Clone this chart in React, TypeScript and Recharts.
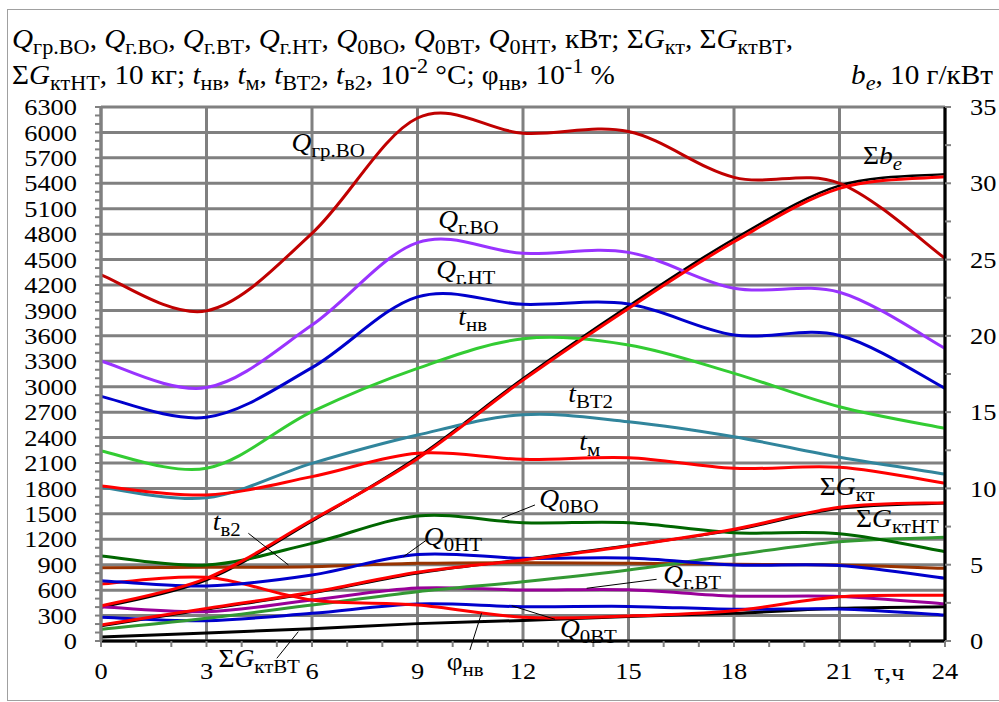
import React from 'react';
import { LineChart, Line, XAxis, YAxis, CartesianGrid, ReferenceLine, ReferenceDot } from 'recharts';

// ---------- data ----------
const hours = [0, 3, 6, 9, 12, 15, 18, 21, 24];

const qGrVO = [4320, 3895, 4810, 6170, 5990, 6010, 5470, 5400, 4515];
const qGVO = [3303, 2990, 3728, 4700, 4574, 4585, 4161, 4115, 3453];
const qGNT = [2886, 2640, 3225, 4060, 3972, 3975, 3610, 3605, 2981];
const tNV = [2242, 2037, 2706, 3217, 3565, 3492, 3158, 2764, 2509];
const tVT2 = [1813, 1690, 2096, 2430, 2670, 2587, 2410, 2167, 1970];
const tM = [1829, 1723, 1939, 2214, 2143, 2163, 2037, 2049, 1861];
const q0VO = [1003, 897, 1152, 1475, 1396, 1395, 1278, 1265, 1054];
const tV2 = [865, 870, 877, 916, 924, 916, 905, 897, 857];
const q0NT = [712, 649, 779, 1020, 975, 978, 897, 890, 740];
const sumGkt = [189, 385, 575, 810, 956, 1121, 1318, 1577, 1632];
const sumGktApprox = [176, 372, 566, 800, 962, 1128, 1308, 1562, 1624];
const sumGktNT = [138, 268, 425, 582, 700, 838, 1015, 1172, 1223];
const qGVT = [405, 346, 484, 625, 602, 605, 531, 525, 437];
const q0VT = [280, 240, 327, 436, 405, 408, 374, 378, 307];
const phiNV = [672, 751, 484, 425, 280, 295, 358, 523, 539];
const sumGktVT = [48, 95, 145, 205, 242, 290, 327, 386, 405];
const sumBe = [2.29, 4.11, 7.93, 11.95, 17.1, 21.8, 26.17, 29.67, 30.43];
const sumBeApprox = [2.2, 4.0, 7.85, 12.05, 17.2, 21.95, 26.35, 29.85, 30.6];

// ---------- axes ----------
const leftMajorTicks = [0, 300, 600, 900, 1200, 1500, 1800, 2100, 2400, 2700, 3000, 3300, 3600, 3900, 4200, 4500, 4800, 5100, 5400, 5700, 6000, 6300];
const leftAllTicks = Array.from({ length: 64 }, (_, i) => i * 100);
const rightTicks = [0, 2.5, 5, 7.5, 10, 12.5, 15, 17.5, 20, 22.5, 25, 27.5, 30, 32.5, 35];
const xMajorTicks = [0, 3, 6, 9, 12, 15, 18, 21, 24];
const xAllTicks = Array.from({ length: 25 }, (_, i) => i);

const data = hours.map((h, i) => ({
  h,
  qGrVO: qGrVO[i], qGVO: qGVO[i], qGNT: qGNT[i], tNV: tNV[i], tVT2: tVT2[i], tM: tM[i],
  q0VO: q0VO[i], tV2: tV2[i], q0NT: q0NT[i], sumGkt: sumGkt[i], sumGktApprox: sumGktApprox[i],
  sumGktNT: sumGktNT[i], qGVT: qGVT[i], q0VT: q0VT[i], phiNV: phiNV[i], sumGktVT: sumGktVT[i],
  sumBe: sumBe[i], sumBeApprox: sumBeApprox[i],
}));

type Seg = [string, string];

const seriesLeft: { key: string; color: string; width: number }[] = [
  { key: 'sumGktApprox', color: '#000000', width: 2.5 },
  { key: 'sumGktVT', color: '#000000', width: 3 },
  { key: 'tV2', color: '#993300', width: 3 },
  { key: 'q0VT', color: '#0000CC', width: 3 },
  { key: 'qGVT', color: '#990099', width: 3 },
  { key: 'sumGktNT', color: '#339933', width: 3 },
  { key: 'phiNV', color: '#FF0000', width: 3 },
  { key: 'q0NT', color: '#0000CC', width: 3 },
  { key: 'q0VO', color: '#006600', width: 3 },
  { key: 'sumGkt', color: '#FF0000', width: 3 },
  { key: 'tVT2', color: '#31859C', width: 3 },
  { key: 'tM', color: '#FF0000', width: 3 },
  { key: 'tNV', color: '#33CC33', width: 3 },
  { key: 'qGNT', color: '#0000CC', width: 3 },
  { key: 'qGVO', color: '#9933FF', width: 3 },
  { key: 'qGrVO', color: '#C00000', width: 3 },
];

// annotation anchors (data coordinates: hour, left-axis value)
const curveLabels: { h: number; v: number; segs: Seg[] }[] = [
  { h: 5.42, v: 5780, segs: [['Q', 'i'], ['гр.ВО', 's']] },
  { h: 9.59, v: 4872, segs: [['Q', 'i'], ['г.ВО', 's']] },
  { h: 9.53, v: 4279, segs: [['Q', 'i'], ['г.НТ', 's']] },
  { h: 10.16, v: 3728, segs: [['t', 'i'], ['нв', 's']] },
  { h: 13.29, v: 2823, segs: [['t', 'i'], ['ВТ2', 's']] },
  { h: 13.6, v: 2253, segs: [['t', 'i'], ['м', 's']] },
  { h: 12.46, v: 1585, segs: [['Q', 'i'], ['0ВО', 's']] },
  { h: 9.18, v: 1133, segs: [['Q', 'i'], ['0НТ', 's']] },
  { h: 13.05, v: 51, segs: [['Q', 'i'], ['0ВТ', 's']] },
  { h: 15.99, v: 681, segs: [['Q', 'i'], ['г.ВТ', 's']] },
  { h: 20.44, v: 1722, segs: [['Σ', 'n'], ['G', 'i'], ['кт', 's']] },
  { h: 21.47, v: 1341, segs: [['Σ', 'n'], ['G', 'i'], ['ктНТ', 's']] },
  { h: 21.67, v: 5628, segs: [['Σ', 'n'], ['b', 'i'], ['e', 'si']] },
  { h: 3.18, v: 1310, segs: [['t', 'i'], ['в2', 's']] },
  { h: 3.34, v: -303, segs: [['Σ', 'n'], ['G', 'i'], ['ктВТ', 's']] },
  { h: 9.83, v: -342, segs: [['φ', 'n'], ['нв', 's']] },
];

const leaders: { h1: number; v1: number; h2: number; v2: number }[] = [
  { h1: 4.19, v1: 1271, h2: 5.33, v2: 897 },
  { h1: 9.26, v1: 1192, h2: 8.6, v2: 995 },
  { h1: 12.34, v1: 1605, h2: 11.39, v2: 1448 },
  { h1: 5.0, v1: -204, h2: 5.61, v2: 110 },
  { h1: 10.49, v1: -106, h2: 10.82, v2: 327 },
  { h1: 12.91, v1: 256, h2: 11.68, v2: 416 },
  { h1: 15.8, v1: 728, h2: 13.81, v2: 622 },
];

const titleLine1: Seg[] = [
  ['Q', 'i'], ['гр.ВО', 's'], [', ', 'n'], ['Q', 'i'], ['г.ВО', 's'], [', ', 'n'],
  ['Q', 'i'], ['г.ВТ', 's'], [', ', 'n'], ['Q', 'i'], ['г.НТ', 's'], [', ', 'n'],
  ['Q', 'i'], ['0ВО', 's'], [', ', 'n'], ['Q', 'i'], ['0ВТ', 's'], [', ', 'n'],
  ['Q', 'i'], ['0НТ', 's'], [', кВт; Σ', 'n'], ['G', 'i'], ['кт', 's'], [', Σ', 'n'],
  ['G', 'i'], ['ктВТ', 's'], [',', 'n'],
];
const titleLine2: Seg[] = [
  ['Σ', 'n'], ['G', 'i'], ['ктНТ', 's'], [', 10 кг; ', 'n'], ['t', 'i'], ['нв', 's'], [', ', 'n'],
  ['t', 'i'], ['м', 's'], [', ', 'n'], ['t', 'i'], ['ВТ2', 's'], [', ', 'n'], ['t', 'i'], ['в2', 's'],
  [', 10', 'n'], ['-2', 'p'], [' °C; φ', 'n'], ['нв', 's'], [', 10', 'n'], ['-1', 'p'], [' %', 'n'],
];
const rightTitle: Seg[] = [['b', 'i'], ['e', 'si'], [', 10 г/кВт', 'n']];

// ---------- helpers ----------
const FONT = "'Liberation Serif', 'Times New Roman', serif";
const SX = 1.1;

function excelCurve(context: any) {
  let pts: number[][] = [];
  return {
    areaStart() {},
    areaEnd() {},
    lineStart() { pts = []; },
    point(x: number, y: number) { pts.push([x, y]); },
    lineEnd() {
      const n = pts.length;
      if (!n) return;
      context.moveTo(pts[0][0], pts[0][1]);
      if (n === 1) return;
      for (let i = 0; i < n - 1; i++) {
        const p0 = pts[i === 0 ? 0 : i - 1];
        const p1 = pts[i];
        const p2 = pts[i + 1];
        const p3 = pts[i + 2 < n ? i + 2 : n - 1];
        context.bezierCurveTo(
          p1[0] + (p2[0] - p0[0]) / 6, p1[1] + (p2[1] - p0[1]) / 6,
          p2[0] - (p3[0] - p1[0]) / 6, p2[1] - (p3[1] - p1[1]) / 6,
          p2[0], p2[1]
        );
      }
    },
  };
}

function MathText({ x, y, segs, size = 25, sub = 19, anchor = 'start', sx = SX }: { x: number; y: number; segs: Seg[]; size?: number; sub?: number; anchor?: string; sx?: number }) {
  let level = 0;
  const kids = segs.map(([t, s], i) => {
    const target = s === 's' || s === 'si' ? 6 : s === 'p' ? -11 : 0;
    const dy = target - level;
    level = target;
    const fs = s === 's' || s === 'si' || s === 'p' ? sub : size;
    const it = s === 'i' || s === 'si';
    return (
      <tspan key={i} dy={dy} fontSize={fs} fontStyle={it ? 'italic' : 'normal'}>{t}</tspan>
    );
  });
  return (
    <text
      transform={`translate(${x},${y}) scale(${sx},1)`}
      x={0}
      y={0}
      fontFamily={FONT}
      fill="#000"
      textAnchor={anchor as any}
      xmlSpace="preserve"
      style={{ whiteSpace: 'pre' }}
    >
      {kids}
    </text>
  );
}

const LeftTick = (p: any) => {
  const v = p.payload.value;
  if (v % 300 !== 0) return <g />;
  return (
    <text transform={`translate(${p.x},${p.y}) scale(${SX},1)`} textAnchor="end" dy="0.34em" fontSize={24} fontFamily={FONT} fill="#000">{v}</text>
  );
};
const RightTick = (p: any) => {
  const v = p.payload.value;
  if (v % 5 !== 0) return <g />;
  return (
    <text transform={`translate(${p.x},${p.y}) scale(${SX},1)`} textAnchor="start" dy="0.34em" fontSize={24} fontFamily={FONT} fill="#000">{v}</text>
  );
};
const BottomTick = (p: any) => {
  const v = p.payload.value;
  if (v % 3 !== 0) return <g />;
  return (
    <text transform={`translate(${p.x},${p.y}) scale(${SX},1)`} textAnchor="middle" dy="0.71em" fontSize={24} fontFamily={FONT} fill="#000">{v}</text>
  );
};

export default function App() {
  return (
    <div style={{ position: 'absolute', left: 0, top: 0, width: 999, height: 702, overflow: 'hidden', background: '#fff' }}>
      <div style={{ position: 'absolute', left: 7, top: 9, width: 1000, height: 692, border: '1px solid #a0a0a0', boxSizing: 'border-box' }} />
      <div style={{ position: 'absolute', left: 0, top: 0 }}>
        <LineChart width={999} height={702} data={data} margin={{ top: 107, right: 0, bottom: 21, left: 41 }}>
          <CartesianGrid
            stroke="#808080"
            strokeWidth={3}
            horizontalValues={leftMajorTicks}
            verticalValues={xMajorTicks}
          />
          <XAxis
            dataKey="h"
            type="number"
            domain={[0, 24]}
            ticks={xAllTicks}
            interval={0}
            height={40}
            tickSize={6}
            tickMargin={15}
            tick={BottomTick}
            tickLine={{ stroke: '#808080', strokeWidth: 2 }}
            axisLine={{ stroke: '#000', strokeWidth: 3 }}
          />
          <XAxis
            xAxisId="top"
            orientation="top"
            dataKey="h"
            type="number"
            domain={[0, 24]}
            height={0}
            tick={false}
            tickLine={false}
            axisLine={{ stroke: '#000', strokeWidth: 3 }}
          />
          <YAxis
            type="number"
            domain={[0, 6300]}
            ticks={leftAllTicks}
            interval={0}
            width={60}
            tickSize={6}
            tickMargin={18}
            tick={LeftTick}
            tickLine={{ stroke: '#808080', strokeWidth: 2 }}
            axisLine={{ stroke: '#808080', strokeWidth: 3 }}
            allowDataOverflow
          />
          <YAxis
            yAxisId="right"
            orientation="right"
            type="number"
            domain={[0, 35]}
            ticks={rightTicks}
            interval={0}
            width={54}
            tickSize={6}
            tickMargin={19}
            tick={RightTick}
            tickLine={{ stroke: '#808080', strokeWidth: 2 }}
            axisLine={{ stroke: '#000', strokeWidth: 3 }}
          />
          <Line yAxisId="right" dataKey="sumBeApprox" stroke="#000" strokeWidth={2.5} dot={false} activeDot={false} type={excelCurve as any} isAnimationActive={false} />
          {seriesLeft.map((s) => (
            <Line key={s.key} dataKey={s.key} stroke={s.color} strokeWidth={s.width} dot={false} activeDot={false} type={excelCurve as any} isAnimationActive={false} />
          ))}
          <Line yAxisId="right" dataKey="sumBe" stroke="#FF0000" strokeWidth={3} dot={false} activeDot={false} type={excelCurve as any} isAnimationActive={false} />
          {leaders.map((l, i) => (
            <ReferenceLine
              key={'l' + i}
              segment={[{ x: l.h1, y: l.v1 }, { x: l.h2, y: l.v2 }]}
              stroke="#000"
              strokeWidth={1}
              ifOverflow="visible"
            />
          ))}
          {curveLabels.map((c, i) => (
            <ReferenceDot
              key={'c' + i}
              x={c.h}
              y={c.v}
              r={0}
              ifOverflow="visible"
              shape={(p: any) => <MathText x={p.cx} y={p.cy} segs={c.segs} />}
            />
          ))}
        </LineChart>
      </div>
      <svg width={999} height={702} style={{ position: 'absolute', left: 0, top: 0, pointerEvents: 'none' }}>
        <MathText x={12} y={48} segs={titleLine1} size={26.3} sub={20} sx={1.11} />
        <MathText x={12} y={84} segs={titleLine2} size={26.3} sub={20} sx={1.11} />
        <MathText x={993} y={84} segs={rightTitle} anchor="end" size={26.3} sub={20} sx={1.11} />
        <MathText x={874} y={680} segs={[['τ,ч', 'n']]} size={24} />
      </svg>
    </div>
  );
}
